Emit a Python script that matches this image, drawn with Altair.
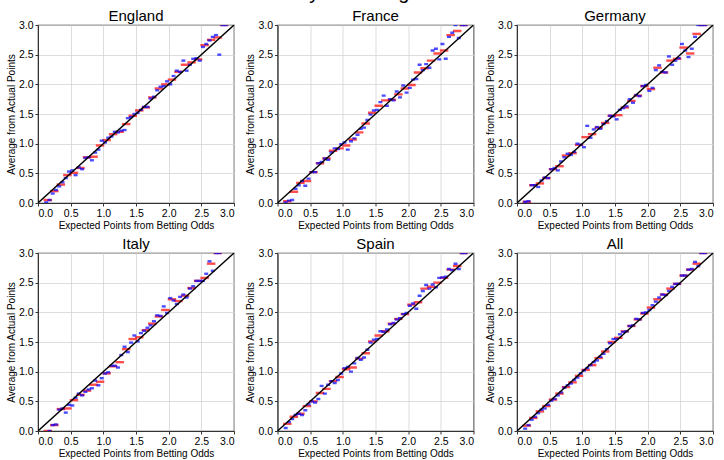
import altair as alt
import pandas as pd

countries = ["England", "France", "Germany", "Italy", "Spain", "All"]

# Red bins (width 0.1) centres and blue bins (width 0.05) centres
x_red = [0.15, 0.25, 0.35, 0.45, 0.55, 0.65, 0.75, 0.85, 0.95, 1.05,
         1.15, 1.25, 1.35, 1.45, 1.55, 1.65, 1.75, 1.85, 1.95, 2.05,
         2.15, 2.25, 2.35, 2.45, 2.55, 2.65, 2.75, 2.85]
x_blue = [0.125, 0.175, 0.225, 0.275, 0.325, 0.375, 0.425, 0.475, 0.525, 0.575,
          0.625, 0.675, 0.725, 0.775, 0.825, 0.875, 0.925, 0.975, 1.025, 1.075,
          1.125, 1.175, 1.225, 1.275, 1.325, 1.375, 1.425, 1.475, 1.525, 1.575,
          1.625, 1.675, 1.725, 1.775, 1.825, 1.875, 1.925, 1.975, 2.025, 2.075,
          2.125, 2.175, 2.225, 2.275, 2.325, 2.375, 2.425, 2.475, 2.525, 2.575,
          2.625, 2.675, 2.725, 2.775, 2.825, 2.875]

red_england = [0.05, 0.20, 0.31, 0.47, 0.51, 0.59, 0.77, 0.78, 0.97, 1.06,
               1.16, 1.20, 1.33, 1.47, 1.56, 1.61, 1.78, 1.93, 2.00, 2.08,
               2.21, 2.33, 2.37, 2.42, 2.66, 2.75, 2.79, 3.00]
blue_england = [0.01, 0.05, 0.16, 0.22, 0.28, 0.35, 0.42, 0.53, 0.55, 0.47,
                0.60, 0.57, 0.76, 0.77, 0.72, 0.85, 0.90, 1.05, 1.02, 1.10,
                1.12, 1.20, 1.19, 1.22, 1.23, 1.43, 1.45, 1.50, 1.52, 1.57,
                1.62, 1.62, 1.76, 1.79, 1.90, 1.96, 1.97, 2.05, 2.00, 2.14,
                2.23, 2.21, 2.40, 2.23, 2.33, 2.43, 2.44, 2.40, 2.63, 2.68,
                2.74, 2.80, 2.83, 2.50, 3.00, 3.00]

red_france = [0.03, 0.19, 0.34, 0.37, 0.52, 0.67, 0.75, 0.88, 0.92, 0.97,
              1.07, 1.19, 1.34, 1.52, 1.64, 1.73, 1.74, 1.83, 1.93, 1.99,
              2.20, 2.27, 2.40, 2.52, 2.57, 2.83, 2.90, 3.00]
blue_france = [0.01, 0.04, 0.05, 0.24, 0.30, 0.37, 0.29, 0.41, 0.52, 0.52,
               0.67, 0.69, 0.75, 0.73, 0.85, 0.92, 0.91, 0.99, 1.02, 0.90,
               1.04, 1.09, 1.15, 1.25, 1.27, 1.40, 1.49, 1.56, 1.57, 1.70,
               1.81, 1.64, 1.75, 1.73, 1.88, 1.78, 1.98, 1.86, 1.94, 2.08,
               2.09, 2.33, 2.24, 2.34, 2.28, 2.57, 2.60, 2.42, 2.68, 2.43,
               2.80, 2.87, 3.00, 2.78, 3.00, 3.00]

red_germany = [0.02, 0.30, 0.33, 0.42, 0.57, 0.62, 0.80, 0.84, 0.98, 1.11,
               1.16, 1.27, 1.35, 1.47, 1.48, 1.61, 1.72, 1.81, 1.97, 1.92,
               2.28, 2.20, 2.40, 2.43, 2.62, 2.52, 2.85, 3.00]
blue_germany = [0.02, 0.03, 0.30, 0.30, 0.27, 0.38, 0.43, 0.42, 0.57, 0.59,
                0.55, 0.70, 0.77, 0.83, 0.81, 0.86, 1.00, 0.98, 0.94, 1.30,
                1.10, 1.24, 1.28, 1.25, 1.33, 1.38, 1.47, 1.46, 1.41, 1.57,
                1.60, 1.63, 1.75, 1.69, 1.82, 1.80, 1.97, 1.99, 1.89, 1.94,
                2.24, 2.32, 2.21, 2.20, 2.47, 2.33, 2.40, 2.44, 2.68, 2.57,
                2.46, 2.60, 2.80, 3.00, 3.00, 3.00]

red_italy = [0.00, 0.10, 0.37, 0.38, 0.52, 0.61, 0.68, 0.78, 0.83, 0.97,
             1.09, 1.16, 1.38, 1.55, 1.58, 1.70, 1.81, 1.93, 2.04, 2.22,
             2.19, 2.28, 2.41, 2.53, 2.58, 2.82, 3.00, None]
blue_italy = [None, 0.00, 0.10, 0.11, 0.36, 0.38, 0.31, 0.44, 0.43, 0.56,
              0.63, 0.60, 0.66, 0.70, 0.72, 0.85, 0.77, 0.89, 0.97, 0.99,
              1.10, 1.10, 1.07, 1.28, 1.42, 1.33, 1.49, 1.61, 1.51, 1.65,
              1.69, 1.74, 1.78, 1.85, 1.95, 1.94, 2.10, 1.99, 2.24, 2.20,
              2.14, 2.26, 2.30, 2.25, 2.40, 2.44, 2.53, 2.53, 2.53, 2.65,
              2.86, 2.70, 3.00, 3.00, None, None]

red_spain = [0.12, 0.24, 0.29, 0.42, 0.50, 0.64, 0.71, 0.84, 0.91, 1.04,
             1.07, 1.22, 1.31, 1.51, 1.61, 1.68, 1.81, 1.89, 1.97, 2.13,
             2.17, 2.40, 2.43, 2.50, 2.58, 2.72, 2.78, 3.00]
blue_spain = [0.05, 0.15, 0.20, 0.27, 0.29, 0.27, 0.35, 0.45, 0.50, 0.48,
              0.54, 0.76, 0.63, 0.78, 0.84, 0.81, 0.86, 0.97, 1.06, 1.08,
              1.00, 1.14, 1.23, 1.20, 1.24, 1.37, 1.49, 1.54, 1.55, 1.68,
              1.67, 1.71, 1.80, 1.82, 1.88, 1.90, 1.97, 1.99, 2.11, 2.15,
              2.06, 2.28, 2.36, 2.46, 2.40, 2.47, 2.42, 2.58, 2.59, 2.60,
              2.73, 2.71, 2.82, 2.73, 3.00, 3.00]

red_all = [0.09, 0.22, 0.33, 0.42, 0.53, 0.63, 0.74, 0.82, 0.93, 1.03,
           1.11, 1.23, 1.34, 1.50, 1.57, 1.68, 1.77, 1.88, 1.98, 2.08,
           2.22, 2.30, 2.40, 2.48, 2.62, 2.72, 2.82, 3.00]
blue_all = [0.04, 0.10, 0.19, 0.24, 0.30, 0.36, 0.38, 0.44, 0.51, 0.54,
            0.60, 0.65, 0.73, 0.77, 0.80, 0.86, 0.90, 0.97, 1.02, 1.06,
            1.11, 1.16, 1.19, 1.25, 1.30, 1.38, 1.48, 1.55, 1.55, 1.63,
            1.67, 1.68, 1.77, 1.78, 1.89, 1.88, 1.99, 2.00, 2.04, 2.12,
            2.18, 2.25, 2.30, 2.29, 2.36, 2.43, 2.48, 2.48, 2.62, 2.62,
            2.72, 2.73, 2.85, 2.78, 3.00, 3.00]

diag = [0.0, 3.0]
ticks = [0.0, 0.5, 1.0, 1.5, 2.0, 2.5, 3.0]

red_vals = {"England": red_england, "France": red_france, "Germany": red_germany,
            "Italy": red_italy, "Spain": red_spain, "All": red_all}
blue_vals = {"England": blue_england, "France": blue_france, "Germany": blue_germany,
             "Italy": blue_italy, "Spain": blue_spain, "All": blue_all}

FONT = "Liberation Sans"

xscale = alt.Scale(domain=[0, 3], nice=False, zero=False)
yscale = alt.Scale(domain=[0, 3], nice=False, zero=False)
xaxis = alt.Axis(values=ticks, format=".1f", title="Expected Points from Betting Odds")
yaxis = alt.Axis(values=ticks, format=".1f", title="Average from Actual Points")


def panel(name):
    rdf = pd.DataFrame({"x": x_red, "y": red_vals[name]}).dropna()
    bdf = pd.DataFrame({"x": x_blue, "y": blue_vals[name]}).dropna()
    ddf = pd.DataFrame({"x": diag, "y": diag})
    red = alt.Chart(rdf).mark_tick(orient="horizontal", color="#ff0000", size=8.5, thickness=2.4, clip=True).encode(
        x=alt.X("x:Q", scale=xscale, axis=xaxis),
        y=alt.Y("y:Q", scale=yscale, axis=yaxis),
    )
    blue = alt.Chart(bdf).mark_tick(orient="horizontal", color="#0000ff", size=4, thickness=2.4, clip=True).encode(
        x=alt.X("x:Q", scale=xscale, axis=xaxis),
        y=alt.Y("y:Q", scale=yscale, axis=yaxis),
    )
    line = alt.Chart(ddf).mark_line(color="black", strokeWidth=1.4, clip=True).encode(
        x=alt.X("x:Q", scale=xscale, axis=xaxis),
        y=alt.Y("y:Q", scale=yscale, axis=yaxis),
    )
    return alt.layer(red, blue, line).properties(
        width=196, height=178,
        title=alt.TitleParams(name, fontSize=15, fontWeight="normal", font=FONT, color="black",
                              frame="group", offset=-4),
    )


row1 = alt.hconcat(*[panel(c) for c in countries[:3]], spacing=8.5)
row2 = alt.hconcat(*[panel(c) for c in countries[3:]], spacing=8.5)

chart = alt.vconcat(row1, row2, spacing=4).properties(
    title=alt.TitleParams("Efficiency of Betting Markets", fontSize=20, fontWeight="normal",
                          font=FONT, color="black", anchor="middle", offset=5),
    padding={"left": 5, "right": 8, "top": -17, "bottom": 2},
).configure_view(
    stroke="#333333", strokeWidth=1.2
).configure_axis(
    labelFont=FONT, titleFont=FONT, labelFontSize=10.5, titleFontSize=10,
    titleFontWeight="normal", labelColor="black", titleColor="black",
    domainColor="#333333", tickColor="#333333", tickSize=3,
    gridColor="#d4d4d4", gridWidth=0.8, labelPadding=2, titlePadding=2,
)

chart.save("out.html", embed_options={"renderer": "svg", "actions": False})
